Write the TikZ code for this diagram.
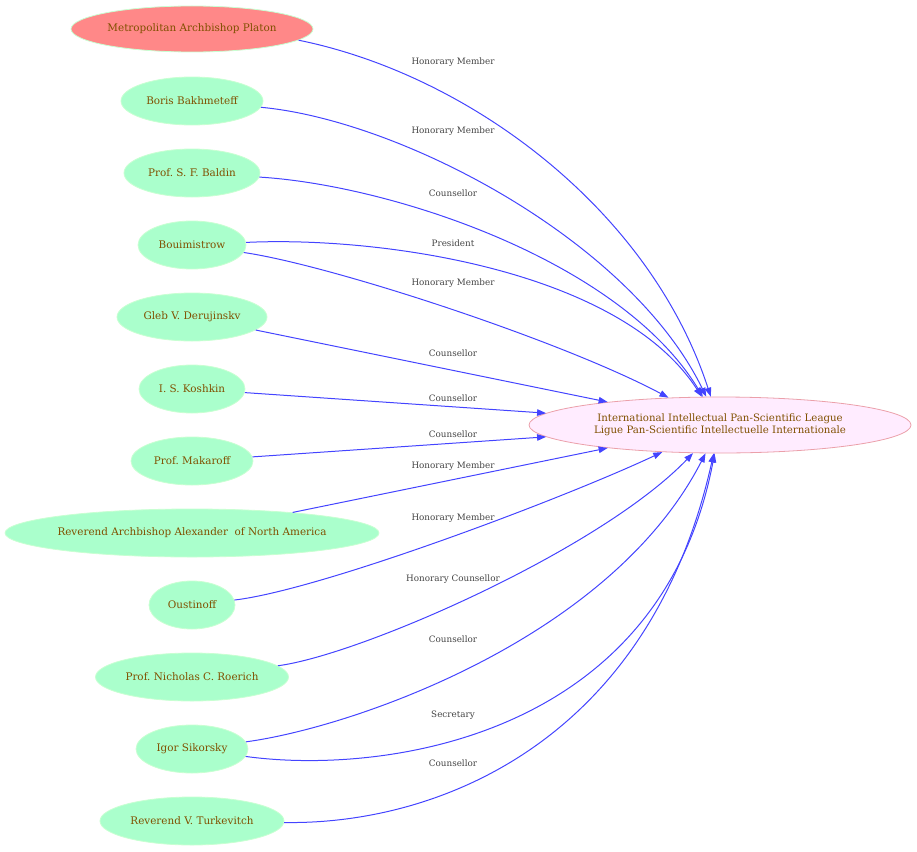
\documentclass[tikz,border=0pt]{standalone}
\usepackage{fontspec}
\setmainfont{DejaVu Serif}
\usetikzlibrary{shapes.geometric,arrows.meta}
\definecolor{nodetext}{RGB}{128,80,0}
\definecolor{greenfill}{RGB}{170,255,204}
\definecolor{greenline}{RGB}{200,255,210}
\definecolor{redfill}{RGB}{255,136,136}
\definecolor{pinkfill}{RGB}{255,236,255}
\definecolor{pinkline}{RGB}{235,160,170}
\definecolor{edgeblue}{RGB}{68,68,255}
\definecolor{labelgray}{RGB}{68,68,68}
\tikzset{
  person/.style={ellipse, draw=greenline, fill=greenfill, line width=0.8pt, inner sep=0pt,
    minimum height=48pt, text=nodetext, font=\fontsize{10.4}{12}\selectfont},
  league/.style={ellipse, draw=pinkline, fill=pinkfill, line width=0.8pt, inner sep=0pt,
    minimum width=382pt, minimum height=56pt, text=nodetext, align=center,
    font=\fontsize{10.2}{11.5}\selectfont},
  rel/.style={draw=edgeblue, line width=1pt, -{Triangle[length=9pt,width=6.5pt]}},
  lbl/.style={text=labelgray, font=\fontsize{8.8}{10}\selectfont, inner sep=0pt},
}
\frenchspacing
\begin{document}
\begin{tikzpicture}[x=1pt,y=-1pt]
\useasboundingbox (0,0) rectangle (917,851);
\node[person, fill=redfill, minimum width=242pt, minimum height=46pt] (platon) at (192,29) {Metropolitan Archbishop Platon};
\node[person, minimum width=142pt] (boris) at (192,101) {Boris Bakhmeteff};
\node[person, minimum width=136pt] (baldin) at (192,173) {Prof. S. F. Baldin};
\node[person, minimum width=108pt] (bouim) at (192,245) {Bouimistrow};
\node[person, minimum width=150pt] (gleb) at (192,317) {Gleb V. Derujinskv};
\node[person, minimum width=106pt] (kosh) at (192,389) {I. S. Koshkin};
\node[person, minimum width=122pt] (makar) at (192,461) {Prof. Makaroff};
\node[person, minimum width=374pt, inner xsep=-3pt] (alex) at (192,533) {Reverend Archbishop Alexander\ \ of North America};
\node[person, minimum width=86pt] (oust) at (192,605) {Oustinoff};
\node[person, minimum width=193pt] (roer) at (192,677) {Prof. Nicholas C. Roerich};
\node[person, minimum width=112pt] (sik) at (192,749) {Igor Sikorsky};
\node[person, minimum width=184pt] (turk) at (192,821) {Reverend V. Turkevitch};
\node[league] (lig) at (720,425) {International Intellectual Pan-Scientific League\\Ligue Pan-Scientific Intellectuelle Internationale};

\draw[rel] (platon.-6) .. controls (470,75) and (650,210) .. (lig);
\draw[rel] (boris) .. controls (400,120) and (630,240) .. (lig);
\draw[rel] (baldin) .. controls (390,185) and (620,260) .. (lig);
\draw[rel] (bouim) .. controls (380,236) and (620,270) .. (lig);
\draw[rel] (bouim) .. controls (330,265) and (560,340) .. (lig);
\draw[rel] (gleb) -- (lig);
\draw[rel] (kosh) -- (lig);
\draw[rel] (makar) -- (lig);
\draw[rel] (alex) -- (lig);
\draw[rel] (oust) .. controls (320,590) and (560,500) .. (lig);
\draw[rel] (roer) .. controls (360,655) and (600,550) .. (lig);
\draw[rel] (sik) .. controls (350,728) and (610,640) .. (lig);
\draw[rel] (sik) .. controls (380,775) and (660,740) .. (lig);
\draw[rel] (turk) .. controls (440,825) and (650,740) .. (lig);

\node[lbl] (l1) at (453,62) {Honorary Member};
\node[lbl] (l2) at (453,131) {Honorary Member};
\node[lbl] (l3) at (453,193) {Counsellor};
\node[lbl] (l4) at (453,243) {President};
\node[lbl] (l5) at (453,283) {Honorary Member};
\node[lbl] (l6) at (453,353) {Counsellor};
\node[lbl] (l7) at (453,398) {Counsellor};
\node[lbl] (l8) at (453,434) {Counsellor};
\node[lbl] (l9) at (453,466) {Honorary Member};
\node[lbl] (l10) at (453,518) {Honorary Member};
\node[lbl] (l11) at (453,579) {Honorary Counsellor};
\node[lbl] (l12) at (453,639) {Counsellor};
\node[lbl] (l13) at (453,715) {Secretary};
\node[lbl] (l14) at (453,763) {Counsellor};
\end{tikzpicture}
\end{document}
